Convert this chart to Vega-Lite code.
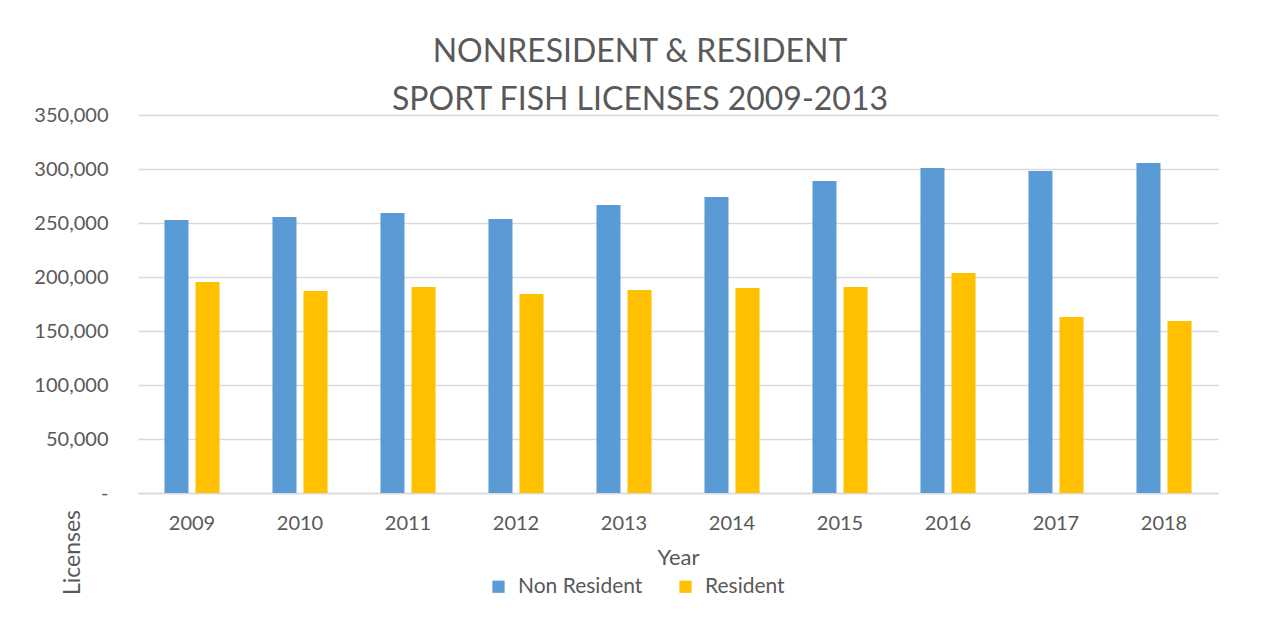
{
  "$schema": "https://vega.github.io/schema/vega-lite/v6.json",
  "width": 1080,
  "height": 378,
  "autosize": {"type": "none"},
  "padding": {"left": 138, "top": 115, "right": 55, "bottom": 124},
  "background": "white",
  "title": {
    "text": ["NONRESIDENT & RESIDENT", "SPORT FISH LICENSES 2009-2013"],
    "anchor": "middle",
    "dx": -38,
    "offset": -12,
    "fontSize": 32,
    "lineHeight": 48,
    "font": "Lato",
    "fontWeight": "normal",
    "color": "#595959"
  },
  "data": {
    "values": [
      {"Year": "2009", "Type": "Non Resident", "Licenses": 252800},
      {"Year": "2009", "Type": "Resident", "Licenses": 195400},
      {"Year": "2010", "Type": "Non Resident", "Licenses": 255600},
      {"Year": "2010", "Type": "Resident", "Licenses": 187000},
      {"Year": "2011", "Type": "Non Resident", "Licenses": 259300},
      {"Year": "2011", "Type": "Resident", "Licenses": 190700},
      {"Year": "2012", "Type": "Non Resident", "Licenses": 253700},
      {"Year": "2012", "Type": "Resident", "Licenses": 184300},
      {"Year": "2013", "Type": "Non Resident", "Licenses": 266700},
      {"Year": "2013", "Type": "Resident", "Licenses": 188000},
      {"Year": "2014", "Type": "Non Resident", "Licenses": 274100},
      {"Year": "2014", "Type": "Resident", "Licenses": 189800},
      {"Year": "2015", "Type": "Non Resident", "Licenses": 288900},
      {"Year": "2015", "Type": "Resident", "Licenses": 190700},
      {"Year": "2016", "Type": "Non Resident", "Licenses": 300900},
      {"Year": "2016", "Type": "Resident", "Licenses": 203700},
      {"Year": "2017", "Type": "Non Resident", "Licenses": 298100},
      {"Year": "2017", "Type": "Resident", "Licenses": 163000},
      {"Year": "2018", "Type": "Non Resident", "Licenses": 305600},
      {"Year": "2018", "Type": "Resident", "Licenses": 159300}
    ]
  },
  "mark": {"type": "bar"},
  "encoding": {
    "x": {
      "field": "Year",
      "type": "nominal",
      "scale": {"paddingInner": 0.49, "paddingOuter": 0.245},
      "axis": {
        "title": "Year",
        "labelAngle": 0,
        "labelFont": "Lato",
        "labelFontSize": 20,
        "labelColor": "#595959",
        "labelPadding": 20,
        "titleFont": "Lato",
        "titleFontSize": 22,
        "titleFontWeight": "normal",
        "titleColor": "#595959",
        "titlePadding": 14,
        "ticks": false,
        "domainColor": "#d9d9d9",
        "domainWidth": 1.5
      }
    },
    "xOffset": {
      "field": "Type",
      "type": "nominal",
      "scale": {"paddingInner": 0.226, "paddingOuter": 0}
    },
    "y": {
      "field": "Licenses",
      "type": "quantitative",
      "scale": {"domain": [0, 350000]},
      "axis": {
        "title": "Licenses",
        "values": [0, 50000, 100000, 150000, 200000, 250000, 300000, 350000],
        "labelExpr": "datum.value == 0 ? '-' : format(datum.value, ',')",
        "labelFont": "Lato",
        "labelFontSize": 20,
        "labelColor": "#595959",
        "labelPadding": 30,
        "titleFont": "Lato",
        "titleFontSize": 23,
        "titleFontWeight": "normal",
        "titleColor": "#595959",
        "titleAngle": -90,
        "titleAlign": "center",
        "titleBaseline": "middle",
        "titleX": -66,
        "titleY": 437,
        "domain": false,
        "ticks": false,
        "gridColor": "#d9d9d9",
        "gridWidth": 1.5
      }
    },
    "color": {
      "field": "Type",
      "type": "nominal",
      "scale": {"domain": ["Non Resident", "Resident"], "range": ["#5B9BD5", "#FFC000"]},
      "legend": {
        "title": null,
        "orient": "none",
        "direction": "horizontal",
        "legendX": 350,
        "legendY": 461,
        "symbolType": "square",
        "symbolSize": 150,
        "symbolStrokeWidth": 0,
        "labelFont": "Lato",
        "labelFontSize": 21,
        "labelColor": "#595959",
        "labelOffset": 9,
        "columnPadding": 32
      }
    }
  },
  "config": {
    "view": {"stroke": null}
  }
}
